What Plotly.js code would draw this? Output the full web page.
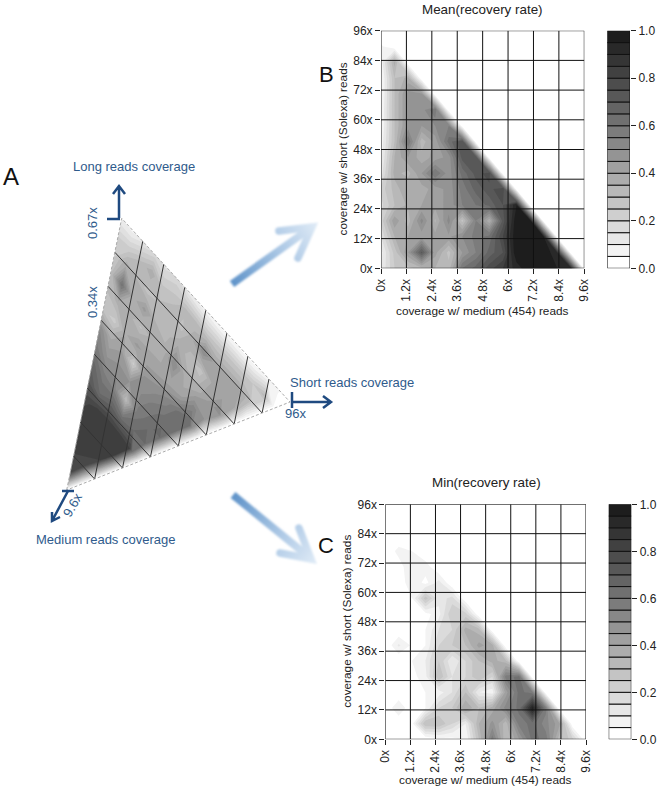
<!DOCTYPE html>
<html><head><meta charset="utf-8">
<script src="https://cdn.plot.ly/plotly-3.0.1.min.js"></script>
<style>html,body{margin:0;padding:0;background:#fff}#c{width:661px;height:787px}</style></head>
<body><div id="c"></div>
<script>
const W=661,H=787;
const mediumCov=[0,.64,1.28,1.92,2.56,3.2,3.84,4.48,5.12,5.76,6.4,7.04,7.68,8.32,8.96,9.6];
const shortCov=[0,6.4,12.8,19.2,25.6,32,38.4,44.8,51.2,57.6,64,70.4,76.8,83.2,89.6,96];
const xTicks=[0,1.2,2.4,3.6,4.8,6,7.2,8.4,9.6];
const xLabels=['0x','1.2x','2.4x','3.6x','4.8x','6x','7.2x','8.4x','9.6x'];
const yTicks=[0,12,24,36,48,60,72,84,96];
const yLabels=['0x','12x','24x','36x','48x','60x','72x','84x','96x'];
const barTicks=[0,.2,.4,.6,.8,1];
const meanRate=[
[.10,.25,.28,.33,.35,.32,.60,.67,.78,.85,.92,1,.97,.95,.95,0],
[.08,.27,.45,.72,.42,.28,.45,.55,.67,.75,1,1,1,.9,0,0],
[.15,.35,.40,.42,.42,.44,.50,.57,.62,.80,1,1,.95,0,0,0],
[.22,.44,.32,.52,.34,.52,.28,.55,.36,.72,1,1,0,0,0,0],
[.18,.30,.36,.40,.42,.47,.55,.60,.67,.75,.95,0,0,0,0,0],
[.22,.32,.40,.38,.42,.47,.57,.67,.73,.80,0,0,0,0,0,0],
[.12,.37,.33,.45,.60,.47,.62,.72,.78,0,0,0,0,0,0,0],
[.08,.35,.45,.37,.42,.47,.72,.75,0,0,0,0,0,0,0,0],
[.06,.30,.60,.32,.42,.62,.75,0,0,0,0,0,0,0,0,0],
[.04,.30,.47,.45,.50,.55,0,0,0,0,0,0,0,0,0,0],
[.04,.30,.47,.47,.60,0,0,0,0,0,0,0,0,0,0,0],
[.03,.30,.47,.47,0,0,0,0,0,0,0,0,0,0,0,0],
[.03,.30,.37,0,0,0,0,0,0,0,0,0,0,0,0,0],
[.06,.37,0,0,0,0,0,0,0,0,0,0,0,0,0,0],
[.06,0,0,0,0,0,0,0,0,0,0,0,0,0,0,0],
[0,0,0,0,0,0,0,0,0,0,0,0,0,0,0,0]];
const minRate=[
[0,0,0,0,.03,.03,.05,.30,.58,.30,.45,.62,.58,.32,.22,0],
[0,0,.03,.30,.30,.20,.10,.35,.47,.32,.57,.62,.52,.42,0,0],
[0,.10,0,.05,.20,.25,.40,.30,.37,.52,.62,.97,.57,0,0,0],
[0,0,.02,.05,.07,.15,.30,.10,.07,.42,.62,.57,0,0,0,0],
[.04,0,.03,.08,.30,.15,.20,.30,.20,.57,.62,0,0,0,0,0],
[0,0,.05,.10,.25,.10,.20,.30,.37,.32,0,0,0,0,0,0],
[0,.11,.04,.05,.20,.25,.30,.42,.37,0,0,0,0,0,0,0],
[0,0,.04,.05,.15,.20,.37,.32,0,0,0,0,0,0,0,0],
[0,0,.05,.03,.08,.25,.22,0,0,0,0,0,0,0,0,0],
[0,0,.05,.28,.12,.17,0,0,0,0,0,0,0,0,0,0],
[0,0,.10,.03,.12,0,0,0,0,0,0,0,0,0,0,0],
[0,.02,.10,.08,0,0,0,0,0,0,0,0,0,0,0,0],
[0,.07,.05,0,0,0,0,0,0,0,0,0,0,0,0,0],
[0,0,0,0,0,0,0,0,0,0,0,0,0,0,0,0],
[0,0,0,0,0,0,0,0,0,0,0,0,0,0,0,0],
[0,0,0,0,0,0,0,0,0,0,0,0,0,0,0,0]];
const levels=Array.from({length:20},(_,k)=>k/20);
const grays=levels.map((_,k)=>{const g=Math.round(255-11.9*k);return `rgb(${g},${g},${g})`;});
const cscale=[[0,grays[0]]];grays.forEach((c,k)=>{cscale.push([(k+.5)/21,c]);cscale.push([(k+1.5)/21,c]);});cscale.push([1,grays[19]]);
const panelB={l:381,r:584.3,t:30.7,b:268.3,bl:607.3,br:630};
const panelC={l:385.3,r:586,t:504.3,b:739.3,bl:608.7,br:631.3};
const triTop=[121.7,218.3],triMed=[66.7,490],triShort=[290,402];
const FONT='"Liberation Sans",Arial,sans-serif',NAVY='#2f5b8c',DARK='#1f4a80',INK='#222';
const traces=[],annotations=[];
const layout={width:W,height:H,margin:{l:0,r:0,t:0,b:0},paper_bgcolor:'#fff',plot_bgcolor:'rgba(0,0,0,0)',showlegend:false,
 font:{family:FONT,size:12,color:INK},annotations,images:[],barmode:'overlay'};
layout.xaxis={domain:[0,1],range:[0,W],visible:false,fixedrange:true};
layout.yaxis={domain:[0,1],range:[H,0],visible:false,fixedrange:true};
function contourOpts(z){return {z,zmin:0,zmax:1,autocontour:false,contours:{start:0,end:1,size:.05,coloring:'fill',showlines:false},
 line:{width:0,smoothing:0},colorscale:cscale,showscale:false,hoverinfo:'skip'};}
function lab(x,y,t,size,color,rot){annotations.push({xref:'x',yref:'y',x,y,text:t,showarrow:false,font:{size,color},textangle:rot||0,xanchor:'center',yanchor:'middle'});}
function panel(n,p,z,title,tx,ty,xt,yt){
 const xa='x'+n,ya='y'+n,xb='x'+(n+1),yb='y'+(n+1);
 const tick={ticks:'outside',ticklen:5,tickcolor:INK,tickwidth:1,showgrid:false,zeroline:false,showline:false,fixedrange:true,tickfont:{size:12,color:INK}};
 layout['xaxis'+n]=Object.assign({domain:[p.l/W,p.r/W],range:[0,9.6],anchor:ya,tickvals:xTicks,ticktext:xLabels,tickangle:-90},tick);
 layout['yaxis'+n]=Object.assign({domain:[1-p.b/H,1-p.t/H],range:[0,96],anchor:xa,tickvals:yTicks,ticktext:yLabels},tick);
 layout['xaxis'+(n+1)]={domain:[p.bl/W,p.br/W],range:[0,1],anchor:yb,visible:false,fixedrange:true};
 layout['yaxis'+(n+1)]=Object.assign({domain:[1-p.b/H,1-p.t/H],range:[0,1],anchor:xb,side:'right',tickvals:barTicks,ticktext:barTicks.map(v=>v.toFixed(1))},tick);
 traces.push(Object.assign({type:'contour',x:mediumCov,y:shortCov,xaxis:xa,yaxis:ya},contourOpts(z)));
 xTicks.forEach(v=>traces.push({type:'scatter',mode:'lines',x:[v,v],y:[0,96],xaxis:xa,yaxis:ya,line:{color:'#111',width:1},hoverinfo:'skip',cliponaxis:false}));
 yTicks.forEach(v=>traces.push({type:'scatter',mode:'lines',x:[0,9.6],y:[v,v],xaxis:xa,yaxis:ya,line:{color:'#111',width:1},hoverinfo:'skip',cliponaxis:false}));
 traces.push({type:'bar',x:levels.map(()=>.5),width:levels.map(()=>1),y:levels.map(()=>.05),base:levels,orientation:'v',xaxis:xb,yaxis:yb,
  marker:{color:grays,line:{color:'#111',width:1}},hoverinfo:'skip',cliponaxis:false});
 lab(tx,ty,title,13.4,INK);
 lab((p.l+p.r)/2,xt,'coverage w/ medium (454) reads',11.8,INK);
 lab(yt,(p.t+p.b)/2-.5,'coverage w/ short (Solexa) reads',11.8,INK,-90);
}
panel(2,panelB,meanRate,'Mean(recovery rate)',482,9,310.5,342.5);
panel(4,panelC,minRate,'Min(recovery rate)',486,482,779.5,347.5);
// Panel A: the same grid skewed onto the triangle
const px=(a,b)=>[triTop[0]+(a/9.6)*(triMed[0]-triTop[0])+(b/96)*(triShort[0]-triTop[0]),
                 triTop[1]+(a/9.6)*(triMed[1]-triTop[1])+(b/96)*(triShort[1]-triTop[1])];
const carpetX=shortCov.map(b=>mediumCov.map(a=>px(a,b)[0]));
const carpetY=shortCov.map(b=>mediumCov.map(a=>px(a,b)[1]));
const hiddenAx={showgrid:false,showticklabels:'none',showline:false,startline:false,endline:false,minorgridcount:0,ticks:''};
traces.unshift(
 {type:'carpet',carpet:'tri',a:mediumCov,b:shortCov,x:carpetX,y:carpetY,aaxis:hiddenAx,baxis:hiddenAx,xaxis:'x',yaxis:'y',hoverinfo:'skip'},
 Object.assign({type:'contourcarpet',carpet:'tri',a:mediumCov,b:shortCov,opacity:.85,xaxis:'x',yaxis:'y'},contourOpts(meanRate)));
xTicks.slice(1,-1).forEach(v=>{
 const p=px(v,0),q=px(v,96*(1-v/9.6));
 traces.push({type:'scatter',mode:'lines',x:[p[0],q[0]],y:[p[1],q[1]],xaxis:'x',yaxis:'y',line:{color:'#333',width:1},hoverinfo:'skip'});
});
yTicks.slice(1,-1).forEach(v=>{
 const p=px(0,v),q=px(9.6*(1-v/96),v);
 traces.push({type:'scatter',mode:'lines',x:[p[0],q[0]],y:[p[1],q[1]],xaxis:'x',yaxis:'y',line:{color:'#333',width:1},hoverinfo:'skip'});
});
traces.push({type:'scatter',mode:'lines',x:[triMed[0],triTop[0],triShort[0],triMed[0]],y:[triMed[1],triTop[1],triShort[1],triMed[1]],xaxis:'x',yaxis:'y',line:{color:'#aaa',width:1,dash:'3px,2px'},hoverinfo:'skip'});
// axis arrows for panel A
const navyLines=[
 [[119,218],[119,186],[113,194],[119,186],[125,194]],
 [[107,219],[120,219]],
 [[292,402],[331,402],[323,396],[331,402],[323,408]],
 [[292,392],[292,408]],
 [[68,491],[52,521],[52,512],[52,521],[60,517]],
 [[62,491],[74,491]]];
navyLines.forEach(l=>traces.push({type:'scatter',mode:'lines',x:l.map(p=>p[0]),y:l.map(p=>p[1]),xaxis:'x',yaxis:'y',line:{color:DARK,width:2.5},hoverinfo:'skip'}));
lab(133.5,166,'Long reads coverage',13,NAVY);
lab(351.5,382,'Short reads coverage',13,NAVY);
lab(105.5,539,'Medium reads coverage',13,NAVY);
lab(92,223,'0.67x',13,NAVY,-90);
lab(92,302,'0.34x',13,NAVY,-90);
lab(295,413,'96x',13,NAVY);
lab(72,505,'9.6x',13,NAVY,-60);
lab(11,176,'A',24,'#111');lab(326,74,'B',22,'#111');lab(326,545,'C',22,'#111');
// faded blue block arrows: points in a 120x100 local box
function fade(id,t,h,b1,b2){
 const svg=`<svg xmlns="http://www.w3.org/2000/svg" width="120" height="100" viewBox="0 0 120 100"><defs><linearGradient id="${id}" gradientUnits="userSpaceOnUse" x1="${t[0]}" y1="${t[1]}" x2="${h[0]}" y2="${h[1]}"><stop offset="0" stop-color="#5f93c9"/><stop offset=".55" stop-color="#a9c6e4"/><stop offset="1" stop-color="#deeaf6"/></linearGradient><filter id="b${id}"><feGaussianBlur stdDeviation="0.9"/></filter></defs><g fill="none" stroke="url(#${id})" stroke-width="7.5" filter="url(#b${id})"><path d="M${t[0]} ${t[1]}L${h[0]-3} ${h[1]+(id=='u'?2.2:-2.5)}"/><path stroke-linecap="round" stroke-linejoin="miter" d="M${b1[0]} ${b1[1]}L${h[0]-4} ${h[1]+(id=='u'?3:-3)}L${b2[0]} ${b2[1]}"/></g></svg>`;
 return 'data:image/svg+xml;base64,'+btoa(svg);
}
layout.images=[
 {source:fade('u',[13,71],[97,11],[60,18],[79,45]),xref:'x',yref:'y',x:219,y:213,sizex:120,sizey:100,xanchor:'left',yanchor:'top',layer:'above',sizing:'stretch'},
 {source:fade('d',[14,14],[96,81],[80,47],[61,72]),xref:'x',yref:'y',x:219,y:481,sizex:120,sizey:100,xanchor:'left',yanchor:'top',layer:'above',sizing:'stretch'}];
Plotly.newPlot('c',traces,layout,{staticPlot:true,displayModeBar:false});
</script></body></html>
